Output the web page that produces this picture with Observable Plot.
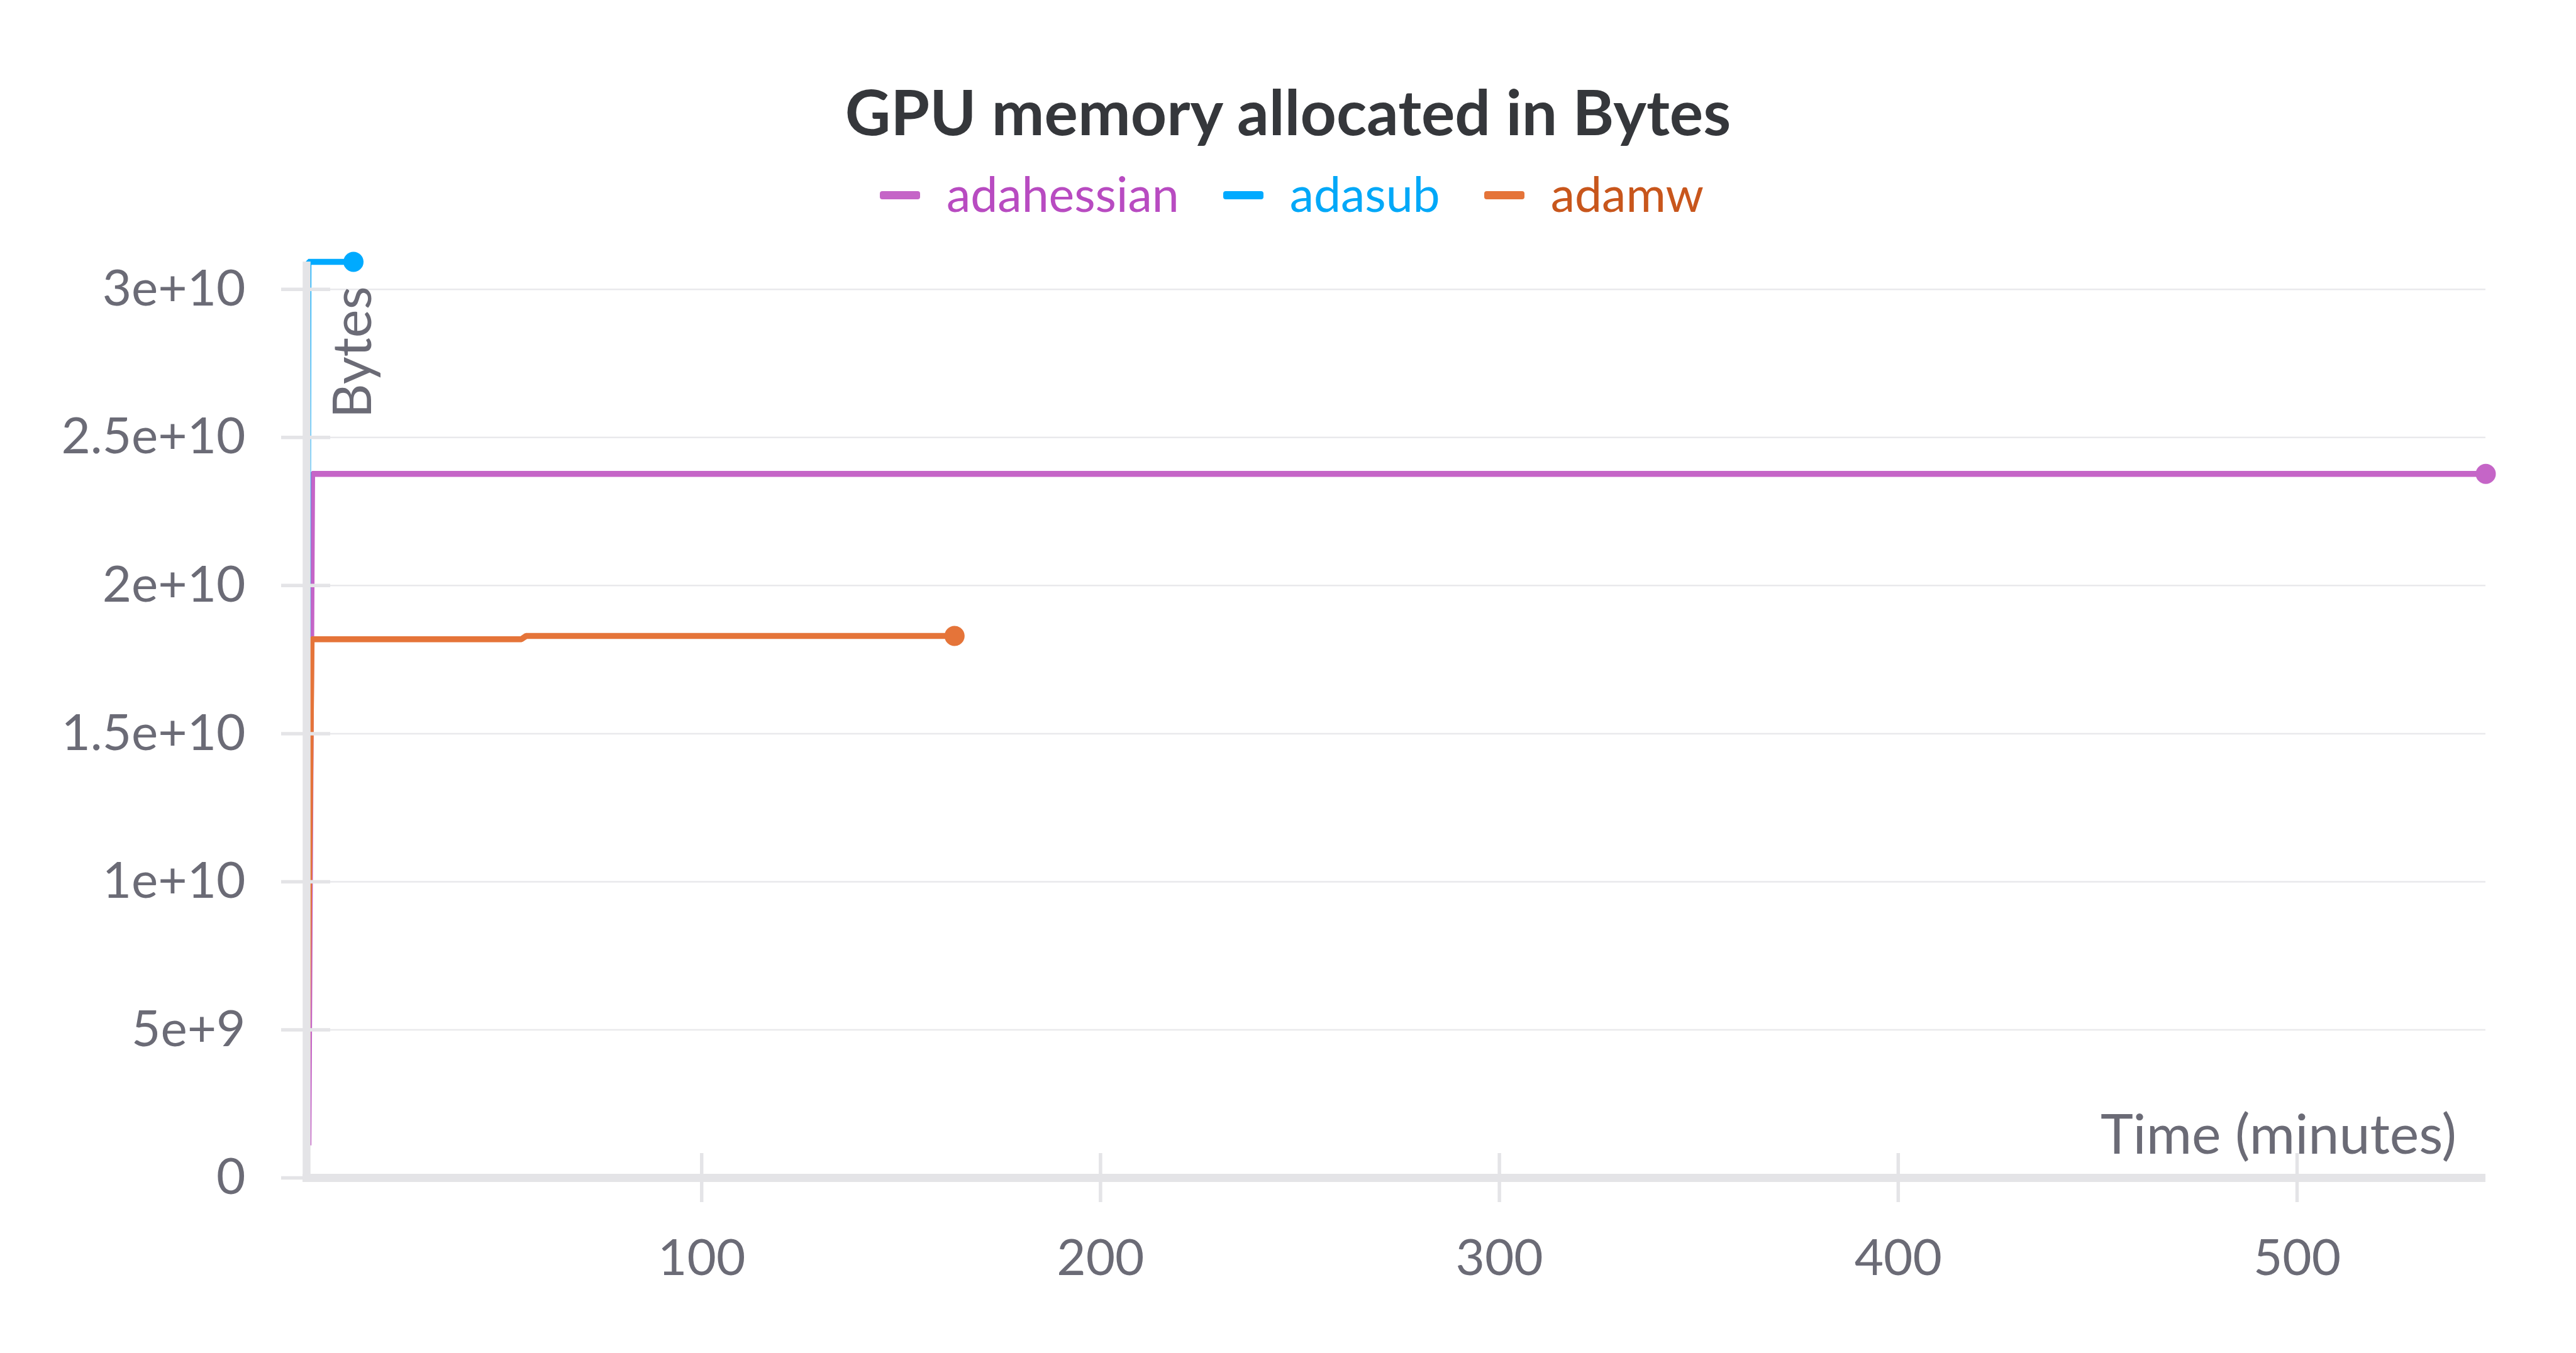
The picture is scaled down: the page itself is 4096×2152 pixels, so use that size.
<!DOCTYPE html>
<html>
<head>
<meta charset="utf-8">
<script src="https://cdn.jsdelivr.net/npm/d3@7"></script>
<script src="https://cdn.jsdelivr.net/npm/@observablehq/plot@0.6"></script>
<style>
  html, body { margin: 0; padding: 0; background: #ffffff; }
  #wrap { position: relative; width: 4096px; height: 2152px; overflow: hidden; font-family: Lato, "Open Sans", sans-serif; }
  #chart { position: absolute; left: 0; top: 0; }
  #title { position: absolute; left: 0; top: 126px; width: 4096px; text-align: center; font-weight: 700; font-size: 100px; line-height: 100px; color: #35373b; white-space: nowrap; }
  #legend { position: absolute; left: 0; top: 269px; width: 4096px; display: flex; justify-content: center; font-size: 77px; line-height: 77px; white-space: nowrap; padding-left: 12px; box-sizing: border-box; }
  .item { display: flex; align-items: flex-start; margin: 0 35px; }
  .swatch { width: 64px; height: 13px; border-radius: 4px; margin-top: 35px; margin-right: 42px; }
</style>
</head>
<body>
<div id="wrap">
  <div id="chart"></div>
  <div id="title"></div>
  <div id="legend"></div>
</div>
<script>
// ---- data ----
const titleText = "GPU memory allocated in Bytes";
const series = ["adahessian", "adasub", "adamw"];
const lineColors = ["#c565c7", "#00aaff", "#e57439"];
const legendTextColors = ["#b84bc1", "#00a8f8", "#c8561c"];

const adahessianTime = [1.4, 2.33, 547.3];
const adahessianBytes = [1.1e9, 2.377e10, 2.377e10];

const adasubTime = [1.0, 1.4, 12.7];
const adasubBytes = [1.0e9, 3.093e10, 3.093e10];

const adamwTime = [0.9, 2.2, 54.8, 56.0, 163.4];
const adamwBytes = [1.0e9, 1.819e10, 1.819e10, 1.830e10, 1.830e10];

const yTicks = [0, 5e9, 1e10, 1.5e10, 2e10, 2.5e10, 3e10];
const yTickLabels = ["0", "5e+9", "1e+10", "1.5e+10", "2e+10", "2.5e+10", "3e+10"];
const xTicks = [100, 200, 300, 400, 500];
const xTickLabels = ["100", "200", "300", "400", "500"];
const xLabel = "Time (minutes)";
const yLabel = "Bytes";
const xMax = 547.3;

// ---- build table ----
const times = [adahessianTime, adasubTime, adamwTime];
const bytes = [adahessianBytes, adasubBytes, adamwBytes];
const rows = [];
series.forEach((s, i) => times[i].forEach((t, j) => rows.push({series: s, time: t, bytes: bytes[i][j]})));
const lastPoints = series.map((s, i) => ({series: s, time: times[i][times[i].length - 1], bytes: bytes[i][bytes[i].length - 1]}));
const yMax = d3.max(rows, d => d.bytes);

const axisGray = "#e4e4e7";
const textGray = "#6b6b76";

const chart = Plot.plot({
  width: 4096,
  height: 2152,
  marginTop: 416,
  marginBottom: 279,
  marginLeft: 481,
  marginRight: 144,
  style: {fontFamily: "Lato, 'Open Sans', sans-serif", fontSize: "80px", color: textGray, background: "transparent", overflow: "visible"},
  x: {domain: [0, xMax]},
  y: {domain: [0, yMax]},
  color: {domain: series, range: lineColors},
  marks: [
    Plot.gridY(yTicks.slice(1), {stroke: "#e9e9ec", strokeOpacity: 1, strokeWidth: 2.5}),
    Plot.line(rows, {x: "time", y: "bytes", z: "series", stroke: "series", strokeWidth: 9.5, strokeLinejoin: "miter", strokeLinecap: "butt"}),
    Plot.dot(lastPoints, {x: "time", y: "bytes", fill: "series", r: 16}),
    Plot.ruleX([0], {stroke: axisGray, strokeWidth: 12.5, dx: 6}),
    Plot.ruleY([0], {stroke: axisGray, strokeWidth: 13}),
    Plot.axisY(yTicks, {anchor: "left", tickSize: 78, dx: 44, stroke: axisGray, strokeWidth: 5.5, fill: "none", label: null}),
    Plot.axisX(xTicks, {anchor: "bottom", tickSize: 78, dy: -39, stroke: axisGray, strokeWidth: 5.5, fill: "none", label: null}),
    Plot.axisY(yTicks, {anchor: "left", tickSize: 0, tickPadding: 91, stroke: "none", fill: textGray, fontSize: 80, tickFormat: (d) => yTickLabels[yTicks.indexOf(d)], label: null}),
    Plot.axisX(xTicks, {anchor: "bottom", tickSize: 0, tickPadding: 98, stroke: "none", fill: textGray, fontSize: 80, tickFormat: d => xTickLabels[xTicks.indexOf(d)], label: null}),
    Plot.text([yLabel], {frameAnchor: "top-left", rotate: -90, textAnchor: "end", lineAnchor: "bottom", dx: 108.7, dy: 39, fill: textGray, fontSize: 85}),
    Plot.text([xLabel], {frameAnchor: "bottom-right", textAnchor: "end", lineAnchor: "bottom", dx: -46.5, dy: -38.5, fill: textGray, fontSize: 88})
  ]
});
document.getElementById("chart").appendChild(chart);

document.getElementById("title").textContent = titleText;
const legend = document.getElementById("legend");
series.forEach((s, i) => {
  const item = document.createElement("div");
  item.className = "item";
  const sw = document.createElement("div");
  sw.className = "swatch";
  sw.style.background = lineColors[i];
  const label = document.createElement("div");
  label.textContent = s;
  label.style.color = legendTextColors[i];
  item.appendChild(sw);
  item.appendChild(label);
  legend.appendChild(item);
});
</script>
</body>
</html>
